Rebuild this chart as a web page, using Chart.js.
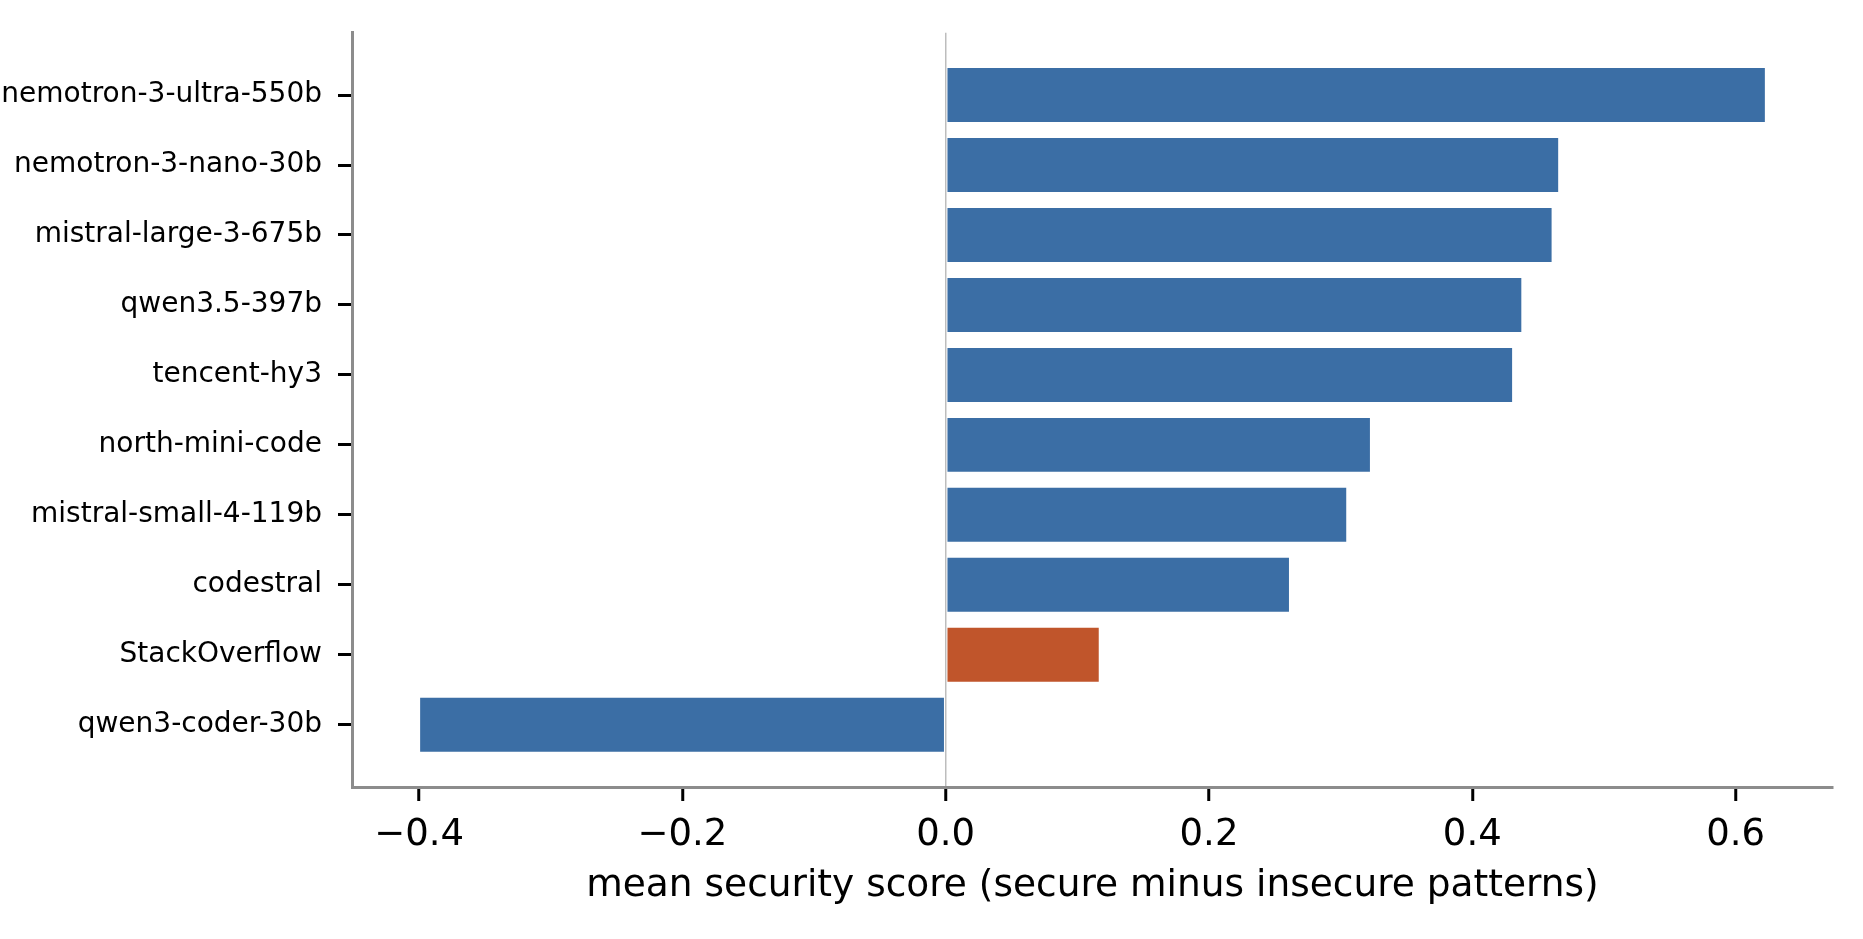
<!DOCTYPE html>
<html>
<head>
<meta charset="utf-8">
<script src="https://cdn.jsdelivr.net/npm/chart.js@4/dist/chart.umd.min.js"></script>
<style>
  html, body { margin: 0; padding: 0; background: #ffffff; }
  #wrap { width: 1863px; height: 939px; position: relative; }
</style>
</head>
<body>
<div id="wrap"><canvas id="c" width="1863" height="939"></canvas></div>
<script>
// ---- data ----
const categories = [
  "nemotron-3-ultra-550b",
  "nemotron-3-nano-30b",
  "mistral-large-3-675b",
  "qwen3.5-397b",
  "tencent-hy3",
  "north-mini-code",
  "mistral-small-4-119b",
  "codestral",
  "StackOverflow",
  "qwen3-coder-30b"
];
const scores = [0.623, 0.466, 0.461, 0.438, 0.431, 0.323, 0.305, 0.2615, 0.117, -0.400];
const barColors = [
  "#3b6ea5", "#3b6ea5", "#3b6ea5", "#3b6ea5", "#3b6ea5",
  "#3b6ea5", "#3b6ea5", "#3b6ea5", "#c0552b", "#3b6ea5"
];
const xTicks = [-0.4, -0.2, 0.0, 0.2, 0.4, 0.6];
const xTitle = "mean security score (secure minus insecure patterns)";

const points = scores.map((v, i) => ({ x: v, y: i }));
const FONT = "'DejaVu Sans', sans-serif";

new Chart(document.getElementById('c'), {
  type: 'bar',
  data: {
    datasets: [{
      data: points,
      backgroundColor: barColors,
      borderColor: 'rgba(255,255,255,0.35)',
      borderWidth: 1,
      borderSkipped: false,
      barPercentage: 0.8,
      categoryPercentage: 1.0
    }]
  },
  options: {
    indexAxis: 'y',
    responsive: false,
    animation: false,
    devicePixelRatio: 1,
    layout: { padding: { top: 28, right: 30, left: 0, bottom: 0 } },
    plugins: { legend: { display: false }, tooltip: { enabled: false } },
    scales: {
      x: {
        type: 'linear',
        min: -0.451,
        max: 0.674,
        afterBuildTicks: (axis) => { axis.ticks = xTicks.map(v => ({ value: v })); },
        afterFit: (axis) => { axis.height = 152; },
        ticks: {
          color: '#000000',
          padding: 12,
          font: { family: FONT, size: 37 },
          callback: (v) => (v < 0 ? '\u2212' + Math.abs(v).toFixed(1) : v.toFixed(1))
        },
        grid: {
          drawOnChartArea: true,
          color: (ctx) => (ctx.tick && Math.abs(ctx.tick.value) < 1e-9 ? '#bdbdbd' : 'rgba(0,0,0,0)'),
          lineWidth: 1.5,
          drawTicks: true,
          tickLength: 14,
          tickColor: '#000000',
          tickWidth: 3
        },
        border: { display: true, color: '#8c8c8c', width: 3 },
        title: {
          display: true,
          text: xTitle,
          color: '#000000',
          font: { family: FONT, size: 37.5 },
          padding: { top: 0, bottom: 30 }
        }
      },
      y: {
        type: 'linear',
        reverse: true,
        offset: false,
        min: -0.89,
        max: 9.89,
        afterBuildTicks: (axis) => { axis.ticks = categories.map((_, i) => ({ value: i })); },
        afterFit: (axis) => { axis.width = 352; },
        ticks: {
          color: '#000000',
          padding: 16,
          font: { family: FONT, size: 28 },
          callback: (v) => categories[v]
        },
        grid: {
          offset: false,
          drawOnChartArea: false,
          drawTicks: true,
          tickLength: 14,
          tickColor: '#000000',
          tickWidth: 3
        },
        border: { display: true, color: '#8c8c8c', width: 3 }
      }
    }
  }
});
</script>
</body>
</html>
